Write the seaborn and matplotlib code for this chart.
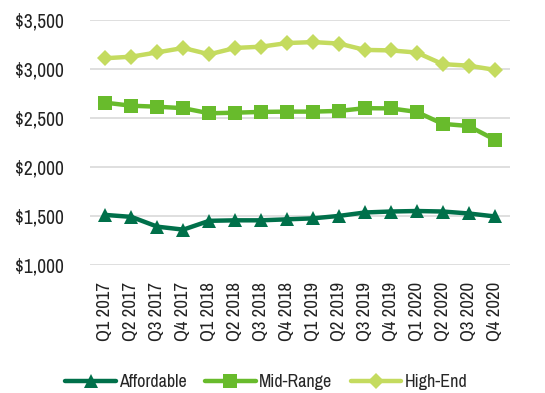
import matplotlib
matplotlib.use("Agg")
import matplotlib.pyplot as plt
import seaborn as sns
import pandas as pd
from matplotlib import font_manager

quarters = ["Q1 2017", "Q2 2017", "Q3 2017", "Q4 2017",
            "Q1 2018", "Q2 2018", "Q3 2018", "Q4 2018",
            "Q1 2019", "Q2 2019", "Q3 2019", "Q4 2019",
            "Q1 2020", "Q2 2020", "Q3 2020", "Q4 2020"]
affordable = [1510, 1490, 1390, 1360, 1450, 1455, 1455, 1465,
              1475, 1500, 1535, 1545, 1550, 1545, 1525, 1495]
mid_range = [2656, 2625, 2615, 2600, 2548, 2554, 2562, 2565,
             2565, 2572, 2600, 2598, 2562, 2440, 2418, 2280]
high_end = [3110, 3126, 3170, 3215, 3150, 3215, 3228, 3265,
            3275, 3260, 3195, 3190, 3168, 3050, 3034, 2992]
series_names = ["Affordable", "Mid-Range", "High-End"]
yticks = [1000, 1500, 2000, 2500, 3000, 3500]

df = pd.DataFrame({
    "Quarter": quarters * 3,
    "Value": affordable + mid_range + high_end,
    "Series": [series_names[0]] * 16 + [series_names[1]] * 16 + [series_names[2]] * 16,
})

colors = {"Affordable": "#00704A", "Mid-Range": "#68BB2C", "High-End": "#C4DB5F"}
markers = {"Affordable": "^", "Mid-Range": "s", "High-End": "D"}
sizes_m = {"Affordable": 10, "Mid-Range": 9.5, "High-End": 8}

names = {f.name for f in font_manager.fontManager.ttflist}
narrow = [n for n in sorted(names) if "Condensed" in n or "Narrow" in n]
base = narrow[0] if narrow else ("Roboto" if "Roboto" in names else "DejaVu Sans")

sns.set_theme(style="white")
plt.rcParams['font.family'] = [base, 'DejaVu Sans']

fig = plt.figure(figsize=(5.45, 3.93), dpi=100)
ax = fig.add_axes([0.165, 0.326, 0.771, 0.623])

for name in series_names:
    sub = df[df["Series"] == name]
    sns.lineplot(data=sub, x="Quarter", y="Value", ax=ax, color=colors[name],
                 marker=markers[name], markersize=sizes_m[name], linewidth=3.2,
                 markeredgewidth=0, label=name, sort=False)

ax.set_ylim(1000, 3500)
ax.set_yticks(yticks)
ax.set_yticklabels([f"${v:,}" for v in yticks], fontsize=14, color="#222222")
ax.set_xlim(-0.6, 15.6)
ax.set_xticks(range(len(quarters)))
ax.set_xticklabels(quarters, rotation=90, fontsize=13.5, color="#222222")
ax.set_xlabel("")
ax.set_ylabel("")
ax.grid(axis="y", color="#d9d9d9", linewidth=1.2)
ax.set_axisbelow(True)
for s in ax.spines.values():
    s.set_visible(False)
ax.tick_params(axis="y", length=0, pad=19)
ax.tick_params(axis="x", length=0, pad=12)

ax.legend(loc="upper center", bbox_to_anchor=(0.42, -0.38), ncol=3, frameon=False,
          handlelength=2.8, columnspacing=1.0, handletextpad=0.2,
          prop={'size': 13})

fig.savefig("out.png", dpi=100)
